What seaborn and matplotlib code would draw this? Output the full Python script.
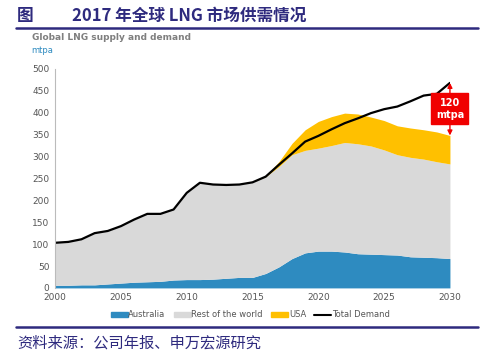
import numpy as np
import pandas as pd
import matplotlib
matplotlib.use("Agg")
import matplotlib.pyplot as plt
import seaborn as sns
from matplotlib.lines import Line2D
from matplotlib.patches import Patch

# Data (mtpa)
years = list(range(2000, 2031))
australia = [6, 6, 7, 7, 9, 11, 13, 14, 15, 18, 19, 19, 20, 22, 24,
             24, 33, 48, 67, 80, 84, 84, 82, 78, 77, 76, 75, 71, 70, 69, 67]
supply_grey_top = [103, 105, 111, 125, 130, 141, 156, 169, 169, 179, 217, 240, 236, 235, 236,
                   241, 254, 277, 304, 314, 319, 325, 332, 329, 324, 315, 304, 298, 294, 288, 283]
total_supply = [103, 105, 111, 125, 130, 141, 156, 169, 169, 179, 217, 240, 236, 235, 236,
                241, 255, 288, 330, 361, 380, 391, 399, 397, 390, 382, 370, 365, 361, 356, 348]
total_demand = [103, 105, 111, 125, 130, 141, 156, 169, 169, 179, 217, 240, 236, 235, 236,
                241, 254, 281, 307, 334, 347, 362, 376, 387, 399, 408, 414, 426, 439, 443, 468]

df = pd.DataFrame({"year": years, "Australia": australia,
                   "Total Demand": total_demand})
df["Rest of the world"] = np.array(supply_grey_top) - np.array(australia)
df["USA"] = np.array(total_supply) - np.array(supply_grey_top)

c_aus = "#2E8BC0"
c_row = "#D9D9D9"
c_usa = "#FFC000"
navy = "#2E2A7E"
red = "#F00000"

sns.set_style("white")
plt.rcParams["font.family"] = ["DejaVu Sans", "Noto Sans CJK SC"]

fig = plt.figure(figsize=(4.88, 3.55), dpi=100)
ax = fig.add_axes([0.113, 0.189, 0.809, 0.617])

ax.stackplot(df["year"], df["Australia"], df["Rest of the world"], df["USA"],
             colors=[c_aus, c_row, c_usa], linewidth=0)
sns.lineplot(data=df, x="year", y="Total Demand", ax=ax, color="black",
             linewidth=1.6, legend=False)

ax.set_xlim(2000, 2030)
ax.set_ylim(0, 500)
ax.set_xticks(range(2000, 2031, 5))
ax.set_yticks(range(0, 501, 50))
ax.set_xlabel("")
ax.set_ylabel("")
ax.tick_params(labelsize=6.5, colors="#555555", length=0, pad=4)
for s in ["top", "right", "bottom"]:
    ax.spines[s].set_visible(False)
ax.spines["left"].set_color("#BBBBBB")
ax.spines["left"].set_linewidth(0.8)

# gap annotation at 2030
gap = total_demand[-1] - total_supply[-1]
ax.annotate("", xy=(2030, total_supply[-1]), xytext=(2030, total_demand[-1]),
            arrowprops=dict(arrowstyle="<|-|>", color=red, lw=1.0,
                            mutation_scale=7, shrinkA=0, shrinkB=0),
            zorder=5)
ax.text(2030, 409, f"{gap}\nmtpa", ha="center", va="center",
        fontsize=7, color="white", fontweight="bold", linespacing=1.3,
        bbox=dict(boxstyle="square,pad=0.45", fc=red, ec=red), zorder=6)

# legend
handles = [Patch(color=c_aus, label="Australia"),
           Patch(color=c_row, label="Rest of the world"),
           Patch(color=c_usa, label="USA"),
           Line2D([0], [0], color="black", lw=1.5, label="Total Demand")]
fig.legend(handles=handles, loc="center", bbox_to_anchor=(0.513, 0.113), ncol=4,
           frameon=False, fontsize=6, handlelength=2.0, handleheight=0.5,
           columnspacing=1.0, handletextpad=0.1, labelcolor="#555555")

# header and footer
cjk = ["Noto Sans CJK SC", "DejaVu Sans"]
fig.text(0.035, 0.955, "图", fontsize=12, fontweight="bold", color=navy,
         family=cjk, va="center")
fig.text(0.148, 0.955, "2017 年全球 LNG 市场供需情况", fontsize=12, fontweight="bold",
         color=navy, family=cjk, va="center")
fig.add_artist(Line2D([0.033, 0.98], [0.92, 0.92], color=navy, lw=1.8))
fig.text(0.065, 0.893, "Global LNG supply and demand", fontsize=6.5,
         fontweight="bold", color="#7F7F7F", va="center")
fig.text(0.065, 0.858, "mtpa", fontsize=6, color="#2E8BC0", va="center")
fig.add_artist(Line2D([0.033, 0.98], [0.08, 0.08], color=navy, lw=1.8))
fig.text(0.035, 0.034, "资料来源：公司年报、申万宏源研究", fontsize=11,
         color=navy, family=cjk, va="center")

fig.savefig("out.png", dpi=100, facecolor="white")
